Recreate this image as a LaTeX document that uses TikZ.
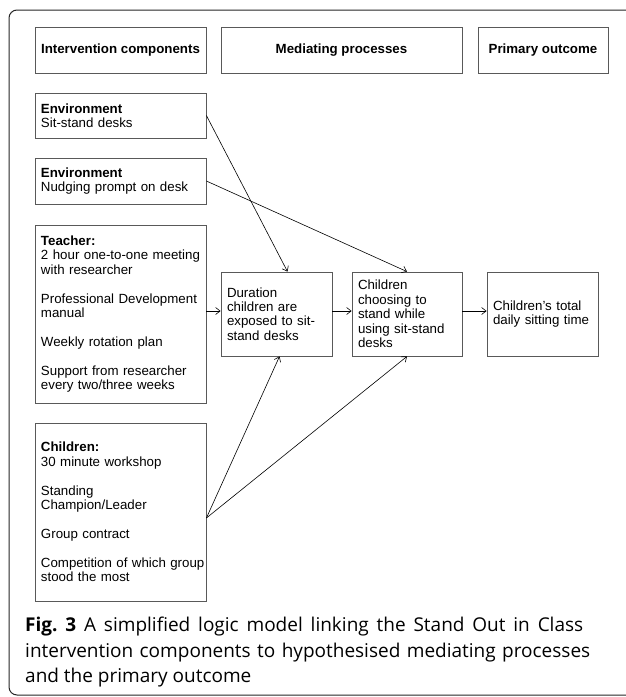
\documentclass[tikz,border=0pt]{standalone}
\usepackage{fontspec}
\setmainfont{Liberation Sans}
\newfontfamily\capfont{Open Sans}
\usetikzlibrary{arrows.meta}

\tikzset{
headbox/.style={draw=black!65,line width=0.8pt,minimum height=46pt,inner sep=0pt,font=\fontsize{13.3}{14.4}\selectfont\bfseries},
compbox/.style={draw=black!65,line width=0.8pt,inner xsep=6pt,inner ysep=0pt,text width=159pt,align=left},
procbox/.style={draw=black!65,line width=0.8pt,minimum height=84pt,inner xsep=6pt,inner ysep=0pt,align=left},
link/.style={-{Straight Barb[length=4.5pt,width=7pt]},line width=0.6pt}}

\begin{document}
\begin{tikzpicture}
  [x=1pt,y=-1pt,
   every node/.style={font=\fontsize{13.3}{14.4}\selectfont},
   capline/.style={anchor=base west,inner sep=0pt,font=\capfont\fontsize{19}{25}\selectfont}]
  \useasboundingbox (0,0) rectangle (625,697);
  \draw[black!85,line width=1pt,rounded corners=8pt] (9,10) rectangle (645,695);
  % headings
  \node[headbox,minimum width=171pt] (hcomp) at (120.5,50) {Intervention components};
  \node[headbox,minimum width=241pt] (hproc) at (341.5,50) {Mediating processes};
  \node[headbox,minimum width=130pt] (hout) at (543,50) {Primary outcome};
  % intervention components
  \node[compbox,minimum height=45pt] (env1) at (120.5,115.5)
    {\textbf{Environment}\\Sit-stand desks};
  \node[compbox,minimum height=46pt] (env2) at (120.5,181)
    {\textbf{Environment}\\Nudging prompt on desk};
  \node[compbox,minimum height=178pt] (teach) at (120.5,314)
    {\textbf{Teacher:}\\2 hour one-to-one meeting\\with researcher\\[14.4pt]
     Professional Development\\manual\\[14.4pt]
     Weekly rotation plan\\[14.4pt]
     Support from researcher\\every two/three weeks};
  \node[compbox,minimum height=178pt] (kids) at (120.5,512)
    {\textbf{Children:}\\30 minute workshop\\[14.4pt]
     Standing\\Champion/Leader\\[14.4pt]
     Group contract\\[14.4pt]
     \mbox{Competition of which group}\\stood the most};
  % mediating processes and outcome
  \node[procbox,minimum width=111pt,text width=99pt] (dur) at (276.5,314)
    {Duration\\children are\\exposed to sit-\\stand desks};
  \node[procbox,minimum width=110pt,text width=98pt] (choose) at (407,314)
    {Children\\choosing to\\stand while\\using sit-stand\\desks};
  \node[procbox,minimum width=111pt,text width=99pt] (outc) at (542.5,314)
    {Children’s total\\daily sitting time};
  % links
  \draw[link] (env1.east) -- ([xshift=11pt]dur.north);
  \draw[link] (env2.east) -- (choose.north);
  \draw[link] ([yshift=3pt]teach.east) -- ([yshift=3pt]dur.west);
  \draw[link] ([yshift=3pt]dur.east) -- ([yshift=3pt]choose.west);
  \draw[link] ([yshift=3pt]choose.east) -- ([yshift=3pt]outc.west);
  \draw[link] ([yshift=-6pt]kids.east) -- ([xshift=3pt]dur.south);
  \draw[link] ([yshift=-6pt]kids.east) -- (choose.south);
  % caption
  \node[capline] (cap1) at (25,631)
    {\makebox[558pt][s]{\textbf{Fig.\ 3} A simplified logic model linking the Stand Out in Class}};
  \node[capline] (cap2) at (25,657)
    {\makebox[565pt][s]{intervention components to hypothesised mediating processes}};
  \node[capline] (cap3) at (25,682) {and the primary outcome};
\end{tikzpicture}
\end{document}
